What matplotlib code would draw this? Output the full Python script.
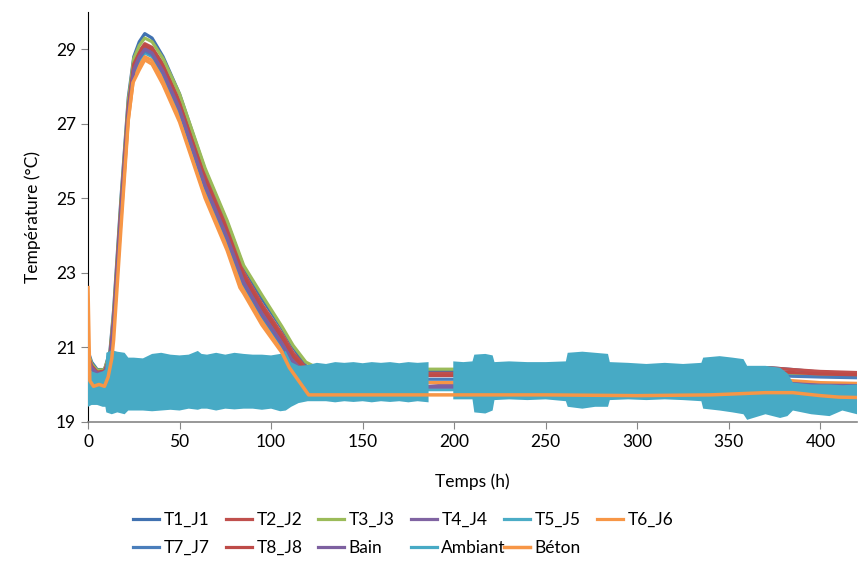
import numpy as np
import matplotlib
matplotlib.use("Agg")
import matplotlib.pyplot as plt
from matplotlib.lines import Line2D

plt.rcParams['font.family'] = ['Lato', 'DejaVu Sans']

# time grid shared by the sensor series (h)
t_sensor = [0, 2, 5, 9, 12, 14, 18, 22, 25, 28, 31, 35, 41, 50, 64, 76, 85, 95,
            106, 112, 119, 125, 186, 200, 372, 385, 400, 420]

T1_J1 = [20.9, 20.6, 20.4, 20.4, 20.9, 22.0, 25.0, 27.7, 28.8, 29.2, 29.42, 29.3, 28.8, 27.8,
         25.75, 24.35, 23.15, 22.3, 21.5, 21.0, 20.5, 20.4, 20.37, 20.37, 20.45, 20.4, 20.33, 20.3]
T2_J2 = [20.8, 20.5, 20.35, 20.38, 20.8, 21.8, 24.8, 27.5, 28.65, 28.95, 29.15, 29.05, 28.6, 27.6,
         25.6, 24.2, 23.0, 22.15, 21.35, 20.85, 20.45, 20.35, 20.3, 20.3, 20.45, 20.4, 20.35, 20.32]
T3_J3 = [20.85, 20.55, 20.38, 20.4, 20.85, 21.9, 24.9, 27.6, 28.75, 29.1, 29.3, 29.2, 28.75, 27.8,
         25.8, 24.4, 23.2, 22.4, 21.55, 21.05, 20.6, 20.45, 20.41, 20.41, 20.3, 20.25, 20.22, 20.2]
T4_J4 = [20.75, 20.45, 20.3, 20.33, 20.7, 21.7, 24.7, 27.4, 28.5, 28.85, 29.05, 28.95, 28.45, 27.45,
         25.4, 24.0, 22.8, 21.95, 21.15, 20.65, 20.3, 20.2, 19.95, 20.0, 20.1, 20.08, 20.02, 20.0]
T5_J5 = [20.65, 20.4, 20.25, 20.28, 20.6, 21.55, 24.5, 27.2, 28.35, 28.65, 28.9, 28.8, 28.3, 27.3,
         25.25, 23.85, 22.65, 21.8, 21.0, 20.5, 20.15, 20.0, 19.86, 19.86, 19.95, 19.95, 19.93, 19.92]
T6_J6 = [20.6, 20.35, 20.22, 20.25, 20.55, 21.5, 24.4, 27.1, 28.25, 28.55, 28.8, 28.7, 28.2, 27.2,
         25.15, 23.75, 22.55, 21.7, 20.9, 20.45, 20.1, 20.05, 20.05, 20.05, 20.15, 20.1, 20.05, 20.03]
T7_J7 = [20.7, 20.4, 20.28, 20.3, 20.65, 21.6, 24.6, 27.3, 28.4, 28.75, 28.95, 28.85, 28.35, 27.35,
         25.3, 23.9, 22.7, 21.85, 21.05, 20.55, 20.2, 20.15, 20.14, 20.14, 20.25, 20.22, 20.2, 20.18]
T8_J8 = [20.78, 20.5, 20.33, 20.36, 20.75, 21.75, 24.75, 27.45, 28.6, 28.9, 29.1, 29.0, 28.55, 27.55,
         25.5, 24.1, 22.9, 22.05, 21.25, 20.75, 20.4, 20.3, 20.24, 20.24, 20.35, 20.32, 20.28, 20.26]
Bain = [20.7, 20.45, 20.3, 20.32, 20.7, 21.65, 24.65, 27.35, 28.45, 28.8, 29.0, 28.9, 28.4, 27.4,
        25.35, 23.95, 22.75, 21.9, 21.1, 20.6, 20.25, 20.15, 19.93, 19.93, 20.05, 20.02, 19.98, 19.97]

# Béton
t_beton = [0, 1, 3, 6, 9, 11, 13, 14, 18, 22, 24.5, 28, 31, 35, 41, 50, 64, 70, 76, 83, 85,
           95, 106, 110, 120.5, 150, 200, 250, 300, 340, 355, 370, 385, 400, 410, 420]
beton = [22.6, 20.1, 19.95, 20.0, 19.95, 20.2, 20.7, 21.2, 24.2, 27.1, 28.1, 28.45, 28.72, 28.6,
         28.05, 27.05, 25.0, 24.3, 23.6, 22.6, 22.45, 21.6, 20.85, 20.45, 19.72, 19.72, 19.72,
         19.72, 19.7, 19.72, 19.75, 19.78, 19.78, 19.7, 19.66, 19.65]

# Ambiant: envelope of the fast oscillation (no data between 186 and 199 h)
t_amb = [0, 2, 5, 8, 9.5, 10, 13, 16, 20, 22, 25, 30, 35, 40, 45, 50, 55, 60, 62, 65, 70, 75,
         80, 85, 90, 95, 100, 105, 108, 111, 115, 120, 125, 130, 135, 140, 145, 150, 155, 160,
         165, 170, 175, 180, 186, 192, 199.5, 205, 210, 211, 217, 221, 222, 230, 240, 250, 261,
         262, 270, 277, 284, 285, 295, 305, 315, 325, 335, 336, 345, 352, 358, 360, 370, 378,
         382, 385, 395, 405, 412, 420]
amb_hi = [20.2, 20.35, 20.3, 20.35, 20.4, 20.85, 20.92, 20.88, 20.85, 20.72, 20.72, 20.7, 20.82,
          20.85, 20.8, 20.78, 20.8, 20.9, 20.82, 20.8, 20.85, 20.8, 20.85, 20.82, 20.8, 20.8,
          20.78, 20.82, 20.9, 20.6, 20.5, 20.52, 20.58, 20.55, 20.6, 20.58, 20.6, 20.57, 20.6,
          20.58, 20.6, 20.57, 20.6, 20.58, 20.6, np.nan, 20.62, 20.6, 20.62, 20.8, 20.82, 20.78,
          20.6, 20.62, 20.6, 20.6, 20.62, 20.85, 20.88, 20.85, 20.82, 20.6, 20.58, 20.55, 20.58,
          20.55, 20.58, 20.72, 20.76, 20.72, 20.68, 20.5, 20.5, 20.45, 20.3, 20.05, 20.0, 20.0,
          19.98, 20.0]
amb_lo = [19.4, 19.45, 19.45, 19.4, 19.4, 19.25, 19.2, 19.25, 19.2, 19.3, 19.3, 19.3, 19.28,
          19.3, 19.32, 19.3, 19.35, 19.32, 19.35, 19.35, 19.3, 19.35, 19.33, 19.35, 19.35, 19.32,
          19.35, 19.28, 19.3, 19.4, 19.5, 19.55, 19.55, 19.55, 19.52, 19.55, 19.53, 19.55, 19.52,
          19.55, 19.53, 19.55, 19.52, 19.55, 19.52, np.nan, 19.6, 19.6, 19.6, 19.25, 19.22,
          19.3, 19.58, 19.6, 19.58, 19.6, 19.55, 19.4, 19.35, 19.4, 19.4, 19.58, 19.6, 19.58,
          19.6, 19.58, 19.55, 19.35, 19.3, 19.25, 19.2, 19.05, 19.2, 19.1, 19.15, 19.3, 19.2,
          19.15, 19.3, 19.2]

labels = ["T1_J1", "T2_J2", "T3_J3", "T4_J4", "T5_J5", "T6_J6", "T7_J7", "T8_J8", "Bain"]
series = [T1_J1, T2_J2, T3_J3, T4_J4, T5_J5, T6_J6, T7_J7, T8_J8, Bain]
colors = ["#4071B0", "#C0504D", "#9BBB59", "#8064A2", "#4BACC6", "#F79646",
          "#4A7EBB", "#BE4B48", "#7D60A0"]
c_amb = "#47AAC5"
c_beton = "#F79646"

fig = plt.figure(figsize=(8.59, 5.71), dpi=100)
ax = fig.add_axes([88 / 859, 1 - 421.7 / 571, (857 - 88) / 859, (421.7 - 12) / 571])

handles = []
for lab, vals, col in zip(labels, series, colors):
    ln, = ax.plot(t_sensor, vals, color=col, lw=2.3, label=lab, solid_joinstyle="round")
    handles.append(ln)

ax.fill_between(t_amb, amb_lo, amb_hi, color=c_amb, lw=0, zorder=3)
h_amb = Line2D([], [], color=c_amb, lw=2.3, label="Ambiant")
ln_b, = ax.plot(t_beton, beton, color=c_beton, lw=2.5, label="Béton", zorder=4)
handles += [h_amb, ln_b]

ax.set_xlim(0, 420)
ax.set_ylim(19, 30)
ax.set_xticks(np.arange(0, 401, 50))
ax.set_yticks(np.arange(19, 30, 2))
ax.tick_params(labelsize=12.5, length=5, color="#868686")
for s in ["top", "right"]:
    ax.spines[s].set_visible(False)
ax.spines["left"].set_color("#000000")
ax.spines["bottom"].set_color("#868686")
ax.spines["bottom"].set_linewidth(1.2)

ax.set_xlabel("Temps (h)", fontsize=12.5, labelpad=17)
ax.set_ylabel("Température (°C)", fontsize=12.5, labelpad=11)

# legend laid out like Excel: fixed-width columns, two rows
col_x = [133, 226, 318, 411, 504, 597]
row_y = [520, 548]
for i, h in enumerate(handles):
    r, c = divmod(i, 6)
    fig.legend([h], [h.get_label()], loc="center left",
               bbox_to_anchor=(col_x[c] / 859, 1 - row_y[r] / 571),
               frameon=False, fontsize=12.5, handlelength=1.5, handletextpad=0.25,
               borderpad=0, borderaxespad=0)

fig.savefig("out.png", dpi=100)
